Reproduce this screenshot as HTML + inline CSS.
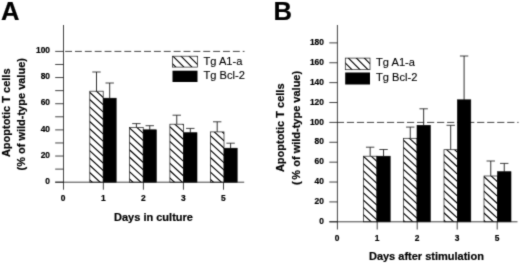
<!DOCTYPE html>
<html><head><meta charset="utf-8"><title>Figure</title>
<style>
html,body{margin:0;padding:0;background:#fff;}
body{width:520px;height:264px;overflow:hidden;}
svg{display:block;}
text{font-family:"Liberation Sans",Arial,Helvetica,sans-serif;fill:#000;stroke:#000;stroke-width:0.2px;stroke-linejoin:round;}
.tk{font-size:8.4px;font-weight:bold;}
.ax{font-size:11px;font-weight:bold;}
.lg{font-size:11.1px;stroke-width:0.12px;}
.pn{font-size:25.6px;font-weight:bold;}
</style></head>
<body>
<svg width="520" height="264" viewBox="0 0 520 264">
<defs><filter id="soft" x="0" y="0" width="520" height="264" filterUnits="userSpaceOnUse" color-interpolation-filters="sRGB"><feConvolveMatrix order="3" kernelMatrix="1 4 1 4 24 4 1 4 1" divisor="44" edgeMode="duplicate" preserveAlpha="false"/></filter></defs>
<g filter="url(#soft)">
<rect width="520" height="264" fill="#fff"/>
<text x="1.0" y="19.7" class="pn">A</text>
<text x="273.6" y="19.7" class="pn">B</text>
<line x1="63.5" y1="51.4" x2="244.5" y2="51.4" stroke="#1a1a1a" stroke-width="0.82" stroke-dasharray="6.9 2.97" stroke-dashoffset="-1.6"/>
<line x1="96.50" y1="72.0" x2="96.50" y2="91.2" stroke="#1a1a1a" stroke-width="0.9"/>
<line x1="92.30" y1="72.0" x2="100.70" y2="72.0" stroke="#1a1a1a" stroke-width="0.82"/>
<clipPath id="c1"><rect x="89.8" y="91.2" width="13.40" height="91.00"/></clipPath><rect x="89.8" y="91.2" width="13.40" height="91.00" fill="#fff"/><path clip-path="url(#c1)" d="M88.80,69.58L104.20,83.75M88.80,76.88L104.20,91.05M88.80,84.18L104.20,98.35M88.80,91.48L104.20,105.65M88.80,98.78L104.20,112.95M88.80,106.08L104.20,120.25M88.80,113.38L104.20,127.55M88.80,120.68L104.20,134.85M88.80,127.98L104.20,142.15M88.80,135.28L104.20,149.45M88.80,142.58L104.20,156.75M88.80,149.88L104.20,164.05M88.80,157.18L104.20,171.35M88.80,164.48L104.20,178.65M88.80,171.78L104.20,185.95M88.80,179.08L104.20,193.25M88.80,186.38L104.20,200.55M88.80,193.68L104.20,207.85" stroke="#000" stroke-width="1.15" fill="none"/><rect x="89.8" y="91.2" width="13.40" height="91.00" fill="none" stroke="#1a1a1a" stroke-width="0.7"/>
<line x1="109.70" y1="83.0" x2="109.70" y2="98.2" stroke="#1a1a1a" stroke-width="0.9"/>
<line x1="105.50" y1="83.0" x2="113.90" y2="83.0" stroke="#1a1a1a" stroke-width="0.82"/>
<rect x="103.2" y="98.2" width="13.00" height="84.00" fill="#000" stroke="#000" stroke-width="0.6"/>
<line x1="136.40" y1="123.6" x2="136.40" y2="127.5" stroke="#1a1a1a" stroke-width="0.9"/>
<line x1="132.20" y1="123.6" x2="140.60" y2="123.6" stroke="#1a1a1a" stroke-width="0.82"/>
<clipPath id="c2"><rect x="129.6" y="127.5" width="13.60" height="54.70"/></clipPath><rect x="129.6" y="127.5" width="13.60" height="54.70" fill="#fff"/><path clip-path="url(#c2)" d="M128.60,105.18L144.20,119.53M128.60,112.48L144.20,126.83M128.60,119.78L144.20,134.13M128.60,127.08L144.20,141.43M128.60,134.38L144.20,148.73M128.60,141.68L144.20,156.03M128.60,148.98L144.20,163.33M128.60,156.28L144.20,170.63M128.60,163.58L144.20,177.93M128.60,170.88L144.20,185.23M128.60,178.18L144.20,192.53M128.60,185.48L144.20,199.83M128.60,192.78L144.20,207.13" stroke="#000" stroke-width="1.15" fill="none"/><rect x="129.6" y="127.5" width="13.60" height="54.70" fill="none" stroke="#1a1a1a" stroke-width="0.7"/>
<line x1="149.75" y1="125.7" x2="149.75" y2="129.8" stroke="#1a1a1a" stroke-width="0.9"/>
<line x1="145.55" y1="125.7" x2="153.95" y2="125.7" stroke="#1a1a1a" stroke-width="0.82"/>
<rect x="143.2" y="129.8" width="13.10" height="52.40" fill="#000" stroke="#000" stroke-width="0.6"/>
<line x1="176.75" y1="115.2" x2="176.75" y2="124.2" stroke="#1a1a1a" stroke-width="0.9"/>
<line x1="172.55" y1="115.2" x2="180.95" y2="115.2" stroke="#1a1a1a" stroke-width="0.82"/>
<clipPath id="c3"><rect x="169.9" y="124.2" width="13.70" height="58.00"/></clipPath><rect x="169.9" y="124.2" width="13.70" height="58.00" fill="#fff"/><path clip-path="url(#c3)" d="M168.90,96.78L184.60,111.22M168.90,104.08L184.60,118.52M168.90,111.38L184.60,125.82M168.90,118.68L184.60,133.12M168.90,125.98L184.60,140.42M168.90,133.28L184.60,147.72M168.90,140.58L184.60,155.02M168.90,147.88L184.60,162.32M168.90,155.18L184.60,169.62M168.90,162.48L184.60,176.92M168.90,169.78L184.60,184.22M168.90,177.08L184.60,191.52M168.90,184.38L184.60,198.82M168.90,191.68L184.60,206.12" stroke="#000" stroke-width="1.15" fill="none"/><rect x="169.9" y="124.2" width="13.70" height="58.00" fill="none" stroke="#1a1a1a" stroke-width="0.7"/>
<line x1="190.30" y1="128.4" x2="190.30" y2="132.7" stroke="#1a1a1a" stroke-width="0.9"/>
<line x1="186.10" y1="128.4" x2="194.50" y2="128.4" stroke="#1a1a1a" stroke-width="0.82"/>
<rect x="183.6" y="132.7" width="13.40" height="49.50" fill="#000" stroke="#000" stroke-width="0.6"/>
<line x1="217.20" y1="121.8" x2="217.20" y2="131.9" stroke="#1a1a1a" stroke-width="0.9"/>
<line x1="213.00" y1="121.8" x2="221.40" y2="121.8" stroke="#1a1a1a" stroke-width="0.82"/>
<clipPath id="c4"><rect x="210.4" y="131.9" width="13.60" height="50.30"/></clipPath><rect x="210.4" y="131.9" width="13.60" height="50.30" fill="#fff"/><path clip-path="url(#c4)" d="M209.40,105.48L225.00,119.83M209.40,112.78L225.00,127.13M209.40,120.08L225.00,134.43M209.40,127.38L225.00,141.73M209.40,134.68L225.00,149.03M209.40,141.98L225.00,156.33M209.40,149.28L225.00,163.63M209.40,156.58L225.00,170.93M209.40,163.88L225.00,178.23M209.40,171.18L225.00,185.53M209.40,178.48L225.00,192.83M209.40,185.78L225.00,200.13M209.40,193.08L225.00,207.43" stroke="#000" stroke-width="1.15" fill="none"/><rect x="210.4" y="131.9" width="13.60" height="50.30" fill="none" stroke="#1a1a1a" stroke-width="0.7"/>
<line x1="230.60" y1="143.2" x2="230.60" y2="148.2" stroke="#1a1a1a" stroke-width="0.9"/>
<line x1="226.40" y1="143.2" x2="234.80" y2="143.2" stroke="#1a1a1a" stroke-width="0.82"/>
<rect x="224.0" y="148.2" width="13.20" height="34.00" fill="#000" stroke="#000" stroke-width="0.6"/>
<line x1="63.5" y1="25" x2="63.5" y2="189.7" stroke="#1a1a1a" stroke-width="0.82"/>
<line x1="55.2" y1="182.2" x2="244.2" y2="182.2" stroke="#1a1a1a" stroke-width="0.82"/>
<line x1="55.2" y1="182.20" x2="63.5" y2="182.20" stroke="#1a1a1a" stroke-width="0.82"/>
<line x1="55.2" y1="169.12" x2="63.5" y2="169.12" stroke="#1a1a1a" stroke-width="0.82"/>
<line x1="55.2" y1="156.04" x2="63.5" y2="156.04" stroke="#1a1a1a" stroke-width="0.82"/>
<line x1="55.2" y1="142.96" x2="63.5" y2="142.96" stroke="#1a1a1a" stroke-width="0.82"/>
<line x1="55.2" y1="129.88" x2="63.5" y2="129.88" stroke="#1a1a1a" stroke-width="0.82"/>
<line x1="55.2" y1="116.80" x2="63.5" y2="116.80" stroke="#1a1a1a" stroke-width="0.82"/>
<line x1="55.2" y1="103.72" x2="63.5" y2="103.72" stroke="#1a1a1a" stroke-width="0.82"/>
<line x1="55.2" y1="90.64" x2="63.5" y2="90.64" stroke="#1a1a1a" stroke-width="0.82"/>
<line x1="55.2" y1="77.56" x2="63.5" y2="77.56" stroke="#1a1a1a" stroke-width="0.82"/>
<line x1="55.2" y1="64.48" x2="63.5" y2="64.48" stroke="#1a1a1a" stroke-width="0.82"/>
<line x1="55.2" y1="51.40" x2="63.5" y2="51.40" stroke="#1a1a1a" stroke-width="0.82"/>
<text x="50.0" y="183.90" text-anchor="end" class="tk">0</text>
<text x="50.0" y="157.74" text-anchor="end" class="tk">20</text>
<text x="50.0" y="131.58" text-anchor="end" class="tk">40</text>
<text x="50.0" y="105.42" text-anchor="end" class="tk">60</text>
<text x="50.0" y="79.26" text-anchor="end" class="tk">80</text>
<text x="50.0" y="53.10" text-anchor="end" class="tk">100</text>
<text x="63.20" y="201.20" text-anchor="middle" class="tk">0</text>
<line x1="103.35" y1="182.2" x2="103.35" y2="189.7" stroke="#1a1a1a" stroke-width="0.82"/>
<text x="103.25" y="201.20" text-anchor="middle" class="tk">1</text>
<line x1="143.40" y1="182.2" x2="143.40" y2="189.7" stroke="#1a1a1a" stroke-width="0.82"/>
<text x="143.30" y="201.20" text-anchor="middle" class="tk">2</text>
<line x1="183.45" y1="182.2" x2="183.45" y2="189.7" stroke="#1a1a1a" stroke-width="0.82"/>
<text x="183.35" y="201.20" text-anchor="middle" class="tk">3</text>
<line x1="223.50" y1="182.2" x2="223.50" y2="189.7" stroke="#1a1a1a" stroke-width="0.82"/>
<text x="223.40" y="201.20" text-anchor="middle" class="tk">5</text>
<line x1="337.2" y1="122.40000000000002" x2="518.6" y2="122.40000000000002" stroke="#1a1a1a" stroke-width="0.82" stroke-dasharray="7.2 2.82" stroke-dashoffset="0.34"/>
<line x1="370.15" y1="147.2" x2="370.15" y2="156.2" stroke="#1a1a1a" stroke-width="0.9"/>
<line x1="365.95" y1="147.2" x2="374.35" y2="147.2" stroke="#1a1a1a" stroke-width="0.82"/>
<clipPath id="c5"><rect x="363.4" y="156.2" width="13.50" height="65.60"/></clipPath><rect x="363.4" y="156.2" width="13.50" height="65.60" fill="#fff"/><path clip-path="url(#c5)" d="M362.40,133.48L377.90,147.74M362.40,140.78L377.90,155.04M362.40,148.08L377.90,162.34M362.40,155.38L377.90,169.64M362.40,162.68L377.90,176.94M362.40,169.98L377.90,184.24M362.40,177.28L377.90,191.54M362.40,184.58L377.90,198.84M362.40,191.88L377.90,206.14M362.40,199.18L377.90,213.44M362.40,206.48L377.90,220.74M362.40,213.78L377.90,228.04M362.40,221.08L377.90,235.34M362.40,228.38L377.90,242.64" stroke="#000" stroke-width="1.15" fill="none"/><rect x="363.4" y="156.2" width="13.50" height="65.60" fill="none" stroke="#1a1a1a" stroke-width="0.7"/>
<line x1="383.55" y1="149.5" x2="383.55" y2="156.2" stroke="#1a1a1a" stroke-width="0.9"/>
<line x1="379.35" y1="149.5" x2="387.75" y2="149.5" stroke="#1a1a1a" stroke-width="0.82"/>
<rect x="376.9" y="156.2" width="13.30" height="65.60" fill="#000" stroke="#000" stroke-width="0.6"/>
<line x1="410.25" y1="127.1" x2="410.25" y2="138.3" stroke="#1a1a1a" stroke-width="0.9"/>
<line x1="406.05" y1="127.1" x2="414.45" y2="127.1" stroke="#1a1a1a" stroke-width="0.82"/>
<clipPath id="c6"><rect x="403.5" y="138.3" width="13.50" height="83.50"/></clipPath><rect x="403.5" y="138.3" width="13.50" height="83.50" fill="#fff"/><path clip-path="url(#c6)" d="M402.50,117.38L418.00,131.64M402.50,124.68L418.00,138.94M402.50,131.98L418.00,146.24M402.50,139.28L418.00,153.54M402.50,146.58L418.00,160.84M402.50,153.88L418.00,168.14M402.50,161.18L418.00,175.44M402.50,168.48L418.00,182.74M402.50,175.78L418.00,190.04M402.50,183.08L418.00,197.34M402.50,190.38L418.00,204.64M402.50,197.68L418.00,211.94M402.50,204.98L418.00,219.24M402.50,212.28L418.00,226.54M402.50,219.58L418.00,233.84M402.50,226.88L418.00,241.14M402.50,234.18L418.00,248.44" stroke="#000" stroke-width="1.15" fill="none"/><rect x="403.5" y="138.3" width="13.50" height="83.50" fill="none" stroke="#1a1a1a" stroke-width="0.7"/>
<line x1="423.65" y1="108.8" x2="423.65" y2="125.3" stroke="#1a1a1a" stroke-width="0.9"/>
<line x1="419.45" y1="108.8" x2="427.85" y2="108.8" stroke="#1a1a1a" stroke-width="0.82"/>
<rect x="417.0" y="125.3" width="13.30" height="96.50" fill="#000" stroke="#000" stroke-width="0.6"/>
<line x1="450.70" y1="125.3" x2="450.70" y2="149.7" stroke="#1a1a1a" stroke-width="0.9"/>
<line x1="446.50" y1="125.3" x2="454.90" y2="125.3" stroke="#1a1a1a" stroke-width="0.82"/>
<clipPath id="c7"><rect x="444.0" y="149.7" width="13.40" height="72.10"/></clipPath><rect x="444.0" y="149.7" width="13.40" height="72.10" fill="#fff"/><path clip-path="url(#c7)" d="M443.00,124.38L458.40,138.55M443.00,131.68L458.40,145.85M443.00,138.98L458.40,153.15M443.00,146.28L458.40,160.45M443.00,153.58L458.40,167.75M443.00,160.88L458.40,175.05M443.00,168.18L458.40,182.35M443.00,175.48L458.40,189.65M443.00,182.78L458.40,196.95M443.00,190.08L458.40,204.25M443.00,197.38L458.40,211.55M443.00,204.68L458.40,218.85M443.00,211.98L458.40,226.15M443.00,219.28L458.40,233.45M443.00,226.58L458.40,240.75M443.00,233.88L458.40,248.05" stroke="#000" stroke-width="1.15" fill="none"/><rect x="444.0" y="149.7" width="13.40" height="72.10" fill="none" stroke="#1a1a1a" stroke-width="0.7"/>
<line x1="464.10" y1="56.0" x2="464.10" y2="99.8" stroke="#1a1a1a" stroke-width="0.9"/>
<line x1="459.90" y1="56.0" x2="468.30" y2="56.0" stroke="#1a1a1a" stroke-width="0.82"/>
<rect x="457.4" y="99.8" width="13.40" height="122.00" fill="#000" stroke="#000" stroke-width="0.6"/>
<line x1="490.75" y1="161.0" x2="490.75" y2="176.0" stroke="#1a1a1a" stroke-width="0.9"/>
<line x1="486.55" y1="161.0" x2="494.95" y2="161.0" stroke="#1a1a1a" stroke-width="0.82"/>
<clipPath id="c8"><rect x="484.0" y="176.0" width="13.50" height="45.80"/></clipPath><rect x="484.0" y="176.0" width="13.50" height="45.80" fill="#fff"/><path clip-path="url(#c8)" d="M483.00,153.83L498.50,168.09M483.00,161.13L498.50,175.39M483.00,168.43L498.50,182.69M483.00,175.73L498.50,189.99M483.00,183.03L498.50,197.29M483.00,190.33L498.50,204.59M483.00,197.63L498.50,211.89M483.00,204.93L498.50,219.19M483.00,212.23L498.50,226.49M483.00,219.53L498.50,233.79M483.00,226.83L498.50,241.09M483.00,234.13L498.50,248.39" stroke="#000" stroke-width="1.15" fill="none"/><rect x="484.0" y="176.0" width="13.50" height="45.80" fill="none" stroke="#1a1a1a" stroke-width="0.7"/>
<line x1="504.25" y1="163.4" x2="504.25" y2="171.7" stroke="#1a1a1a" stroke-width="0.9"/>
<line x1="500.05" y1="163.4" x2="508.45" y2="163.4" stroke="#1a1a1a" stroke-width="0.82"/>
<rect x="497.5" y="171.7" width="13.50" height="50.10" fill="#000" stroke="#000" stroke-width="0.6"/>
<line x1="337.4" y1="25" x2="337.4" y2="229.5" stroke="#1a1a1a" stroke-width="0.82"/>
<line x1="329.3" y1="221.8" x2="517.5" y2="221.8" stroke="#1a1a1a" stroke-width="0.82"/>
<line x1="329.3" y1="221.80" x2="337.4" y2="221.80" stroke="#1a1a1a" stroke-width="0.82"/>
<line x1="329.3" y1="201.92" x2="337.4" y2="201.92" stroke="#1a1a1a" stroke-width="0.82"/>
<line x1="329.3" y1="182.04" x2="337.4" y2="182.04" stroke="#1a1a1a" stroke-width="0.82"/>
<line x1="329.3" y1="162.16" x2="337.4" y2="162.16" stroke="#1a1a1a" stroke-width="0.82"/>
<line x1="329.3" y1="142.28" x2="337.4" y2="142.28" stroke="#1a1a1a" stroke-width="0.82"/>
<line x1="329.3" y1="122.40" x2="337.4" y2="122.40" stroke="#1a1a1a" stroke-width="0.82"/>
<line x1="329.3" y1="102.52" x2="337.4" y2="102.52" stroke="#1a1a1a" stroke-width="0.82"/>
<line x1="329.3" y1="82.64" x2="337.4" y2="82.64" stroke="#1a1a1a" stroke-width="0.82"/>
<line x1="329.3" y1="62.76" x2="337.4" y2="62.76" stroke="#1a1a1a" stroke-width="0.82"/>
<line x1="329.3" y1="42.88" x2="337.4" y2="42.88" stroke="#1a1a1a" stroke-width="0.82"/>
<text x="323.9" y="224.00" text-anchor="end" class="tk">0</text>
<text x="323.9" y="204.12" text-anchor="end" class="tk">20</text>
<text x="323.9" y="184.24" text-anchor="end" class="tk">40</text>
<text x="323.9" y="164.36" text-anchor="end" class="tk">60</text>
<text x="323.9" y="144.48" text-anchor="end" class="tk">80</text>
<text x="323.9" y="124.60" text-anchor="end" class="tk">100</text>
<text x="323.9" y="104.72" text-anchor="end" class="tk">120</text>
<text x="323.9" y="84.84" text-anchor="end" class="tk">140</text>
<text x="323.9" y="64.96" text-anchor="end" class="tk">160</text>
<text x="323.9" y="45.08" text-anchor="end" class="tk">180</text>
<text x="337.10" y="240.50" text-anchor="middle" class="tk">0</text>
<line x1="377.20" y1="221.8" x2="377.20" y2="229.5" stroke="#1a1a1a" stroke-width="0.82"/>
<text x="377.10" y="240.50" text-anchor="middle" class="tk">1</text>
<line x1="417.20" y1="221.8" x2="417.20" y2="229.5" stroke="#1a1a1a" stroke-width="0.82"/>
<text x="417.10" y="240.50" text-anchor="middle" class="tk">2</text>
<line x1="457.20" y1="221.8" x2="457.20" y2="229.5" stroke="#1a1a1a" stroke-width="0.82"/>
<text x="457.10" y="240.50" text-anchor="middle" class="tk">3</text>
<line x1="497.20" y1="221.8" x2="497.20" y2="229.5" stroke="#1a1a1a" stroke-width="0.82"/>
<text x="497.10" y="240.50" text-anchor="middle" class="tk">5</text>
<!-- legend A -->
<clipPath id="c9"><rect x="172.6" y="56.2" width="25.00" height="10.90"/></clipPath><rect x="172.6" y="56.2" width="25.00" height="10.90" fill="#fff"/><path clip-path="url(#c9)" d="M171.60,14.50L198.60,41.50M171.60,22.56L198.60,49.56M171.60,30.62L198.60,57.62M171.60,38.68L198.60,65.68M171.60,46.74L198.60,73.74M171.60,54.80L198.60,81.80M171.60,62.86L198.60,89.86M171.60,70.92L198.60,97.92M171.60,78.98L198.60,105.98" stroke="#000" stroke-width="1.1" fill="none"/><rect x="172.6" y="56.2" width="25.00" height="10.90" fill="none" stroke="#1a1a1a" stroke-width="0.7"/>
<rect x="172.5" y="70.7" width="25" height="11.3" fill="#000"/>
<text x="203.5" y="64.6" class="lg">Tg A1-a</text>
<text x="203.5" y="78.7" class="lg">Tg Bcl-2</text>
<!-- legend B -->
<clipPath id="c10"><rect x="345.3" y="58.1" width="24.70" height="11.60"/></clipPath><rect x="345.3" y="58.1" width="24.70" height="11.60" fill="#fff"/><path clip-path="url(#c10)" d="M344.30,22.00L371.00,48.70M344.30,30.00L371.00,56.70M344.30,38.00L371.00,64.70M344.30,46.00L371.00,72.70M344.30,54.00L371.00,80.70M344.30,62.00L371.00,88.70M344.30,70.00L371.00,96.70M344.30,78.00L371.00,104.70" stroke="#000" stroke-width="1.1" fill="none"/><rect x="345.3" y="58.1" width="24.70" height="11.60" fill="none" stroke="#1a1a1a" stroke-width="0.7"/>
<rect x="345.2" y="72.5" width="24.8" height="12" fill="#000"/>
<text x="376.1" y="66.4" class="lg">Tg A1-a</text>
<text x="376.1" y="81.0" class="lg">Tg Bcl-2</text>
<!-- axis titles -->
<text x="153.5" y="221.4" text-anchor="middle" class="ax">Days in culture</text>
<text x="426.4" y="260.2" text-anchor="middle" class="ax">Days after stimulation</text>
<text transform="translate(9.8,112.8) rotate(-90)" text-anchor="middle" class="ax">Apoptotic T cells</text>
<text transform="translate(25.2,114.3) rotate(-90)" text-anchor="middle" class="ax">(% of wild-type value)</text>
<text transform="translate(284.0,127.8) rotate(-90)" text-anchor="middle" class="ax">Apoptotic T cells</text>
<text transform="translate(299.5,127.9) rotate(-90)" text-anchor="middle" class="ax">(<tspan dx="1.6">%</tspan> of wild-type value)</text>
</g>
</svg>
</body></html>
